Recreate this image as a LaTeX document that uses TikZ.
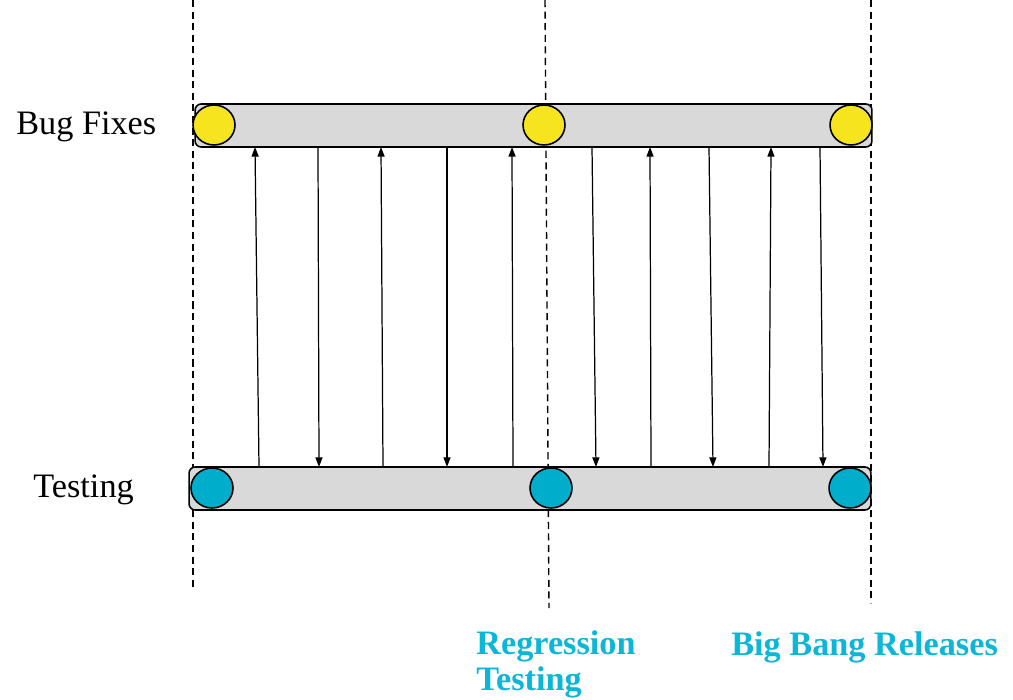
\documentclass[tikz,border=0pt]{standalone}
\usepackage{fontspec}
\setmainfont{Liberation Serif}
\usetikzlibrary{arrows.meta,shapes.geometric}
\definecolor{fixyellow}{RGB}{246,228,30}
\definecolor{testcyan}{RGB}{0,174,204}
\definecolor{labelcyan}{RGB}{12,182,214}
\definecolor{bargray}{RGB}{217,217,217}
\begin{document}
\begin{tikzpicture}[x=0.02cm,y=-0.02cm,
	bar/.style={draw=black, fill=bargray, line width=0.9pt, rounded corners=3.5pt,
		minimum height=0.86cm, inner sep=0pt},
	stop/.style={ellipse, draw=black, line width=0.9pt, minimum width=0.84cm,
		minimum height=0.80cm, inner sep=0pt},
	cut/.style={black, line width=0.8pt, dash pattern=on 4pt off 2.6pt},
	hop/.style={black, line width=0.7pt, -{Triangle[length=5.5pt,width=4pt]}},
	lane/.style={font=\fontsize{19.5}{20}\selectfont, anchor=base west, inner sep=0pt},
	release/.style={font=\fontsize{19.5}{20}\selectfont\bfseries, text=labelcyan,
		anchor=base west, inner sep=0pt, align=left}]
	\useasboundingbox (0,0) rectangle (1013,699);
	% release cuts
	\draw [cut] (193,0) -- (193,588);
	\draw [cut] (545,0) -- (549,608);
	\draw [cut] (871,0) -- (871,603);
	% the two lanes
	\node [bar, minimum width=13.54cm] (fixes) at (533.5,125.5) {};
	\node [bar, minimum width=13.64cm] (testing) at (530,488.5) {};
	\node [stop, fill=fixyellow] (fix1) at (214,125) {};
	\node [stop, fill=fixyellow] (fix2) at (544,125) {};
	\node [stop, fill=fixyellow] (fix3) at (851,125) {};
	\node [stop, fill=testcyan] (test1) at (212,488) {};
	\node [stop, fill=testcyan] (test2) at (551,488) {};
	\node [stop, fill=testcyan] (test3) at (850,488) {};
	% hand-offs between the lanes
	\foreach \i/\xt/\xb in {1/255/259, 2/381/383, 3/512/513, 4/650/651, 5/771/769} {
		\coordinate (up\i) at (\xt,147);
		\coordinate (upfoot\i) at (\xb,467);
		\draw [hop] (upfoot\i) -- (up\i);
	}
	\foreach \i/\xt/\xb in {1/318/319, 2/447/447, 3/592/596, 4/709/713, 5/820/823} {
		\coordinate (down\i) at (\xt,147);
		\coordinate (downfoot\i) at (\xb,467);
		\draw [hop] (down\i) -- (downfoot\i);
	}
	% labels (a two-line node sits on its last baseline)
	\node [lane] (fixlabel) at (16,135) {Bug Fixes};
	\node [lane] (testlabel) at (33,497) {Testing};
	\node [release] (regression) at (476,690) {Regression\\Testing};
	\node [release] (bigbang) at (731,655) {Big Bang Releases};
\end{tikzpicture}
\end{document}
